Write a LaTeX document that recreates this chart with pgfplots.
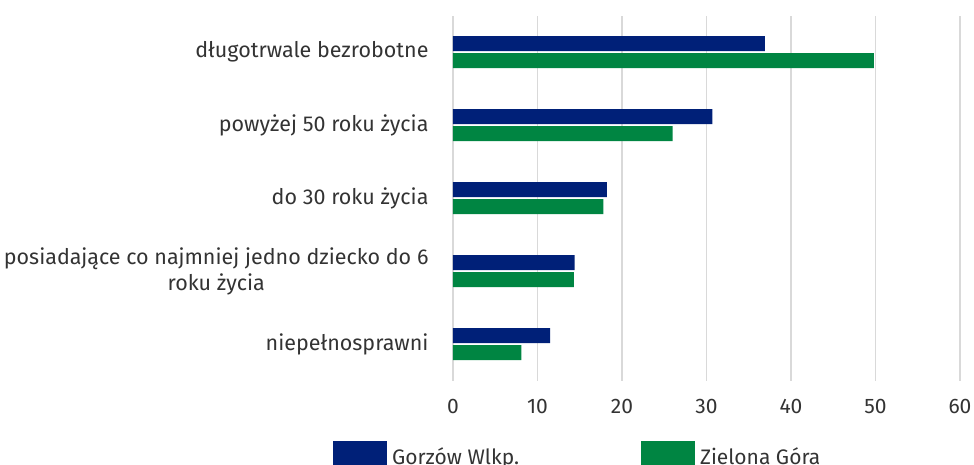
\documentclass[border=0pt]{standalone}
\usepackage{pgfplots}
\pgfplotsset{compat=1.18}
\usepackage{fontspec}
\setmainfont{Fira Sans}
\definecolor{gorzow}{RGB}{0,32,120}
\definecolor{zielona}{RGB}{0,133,66}
\definecolor{gridgray}{RGB}{217,217,217}
\definecolor{txt}{RGB}{51,51,51}
\begin{document}
\begin{tikzpicture}[x=1pt,y=1pt]
\path[use as bounding box] (0,0) rectangle (974,464);
\begin{axis}[
    at={(453pt,83.5pt)}, anchor=south west,
    scale only axis,
    width=507pt, height=365pt,
    xbar, bar width=15pt,
    xmin=0, xmax=60,
    ymin=-0.5, ymax=4.5,
    xtick={0,10,...,60},
    ytick={0,1,2,3,4},
    yticklabels={niepełnosprawni,
      {posiadające co najmniej jedno dziecko do 6\\roku życia},
      do 30 roku życia, powyżej 50 roku życia, długotrwale bezrobotne},
    xmajorgrids, major grid style={gridgray, line width=1.2pt},
    axis line style={draw=none},
    major tick length=0pt,
    tick style={draw=none},
    /pgf/number format/assume math mode=true,
    ticklabel style={text=txt},
    yticklabel style={align=center, xshift=-21pt, font=\fontsize{21.5}{26}\selectfont},
    xticklabel style={yshift=-15pt, font=\fontsize{21}{25}\selectfont},
    legend columns=2,
    legend style={draw=none, fill=none, at={(-0.2426,-0.161)}, anchor=north west,
      font=\fontsize{21}{25}\selectfont, text=txt,
      /tikz/every even column/.append style={column sep=120pt}},
    legend image code/.code={\fill[#1] (0pt,-15pt) rectangle (54pt,15pt); \path (57pt,0pt);},
]
\addplot[fill=gorzow, draw=none, bar shift=8.5pt] coordinates {
  (11.5,0) (14.4,1) (18.2,2) (30.7,3) (36.9,4)
};
\addplot[fill=zielona, draw=none, bar shift=-8.5pt] coordinates {
  (8.1,0) (14.3,1) (17.8,2) (26.0,3) (49.8,4)
};
\legend{Gorzów Wlkp., Zielona Góra}
\end{axis}
\end{tikzpicture}
\end{document}
